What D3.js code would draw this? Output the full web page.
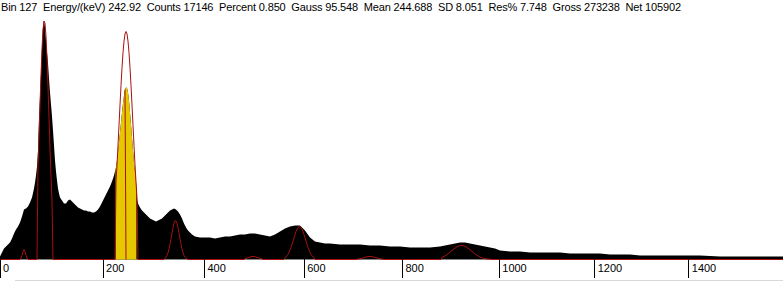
<!DOCTYPE html>
<html>
<meta charset="utf-8">
<title>Gamma Spectrum</title>
<style>
html, body {
    margin: 0;
    padding: 0;
    background: #fff;
}
svg {
    display: block;
}
.header, .axis text {
    font-family: "Liberation Sans", Arial, sans-serif;
    font-size: 11px;
    fill: #000;
}
.spectrum {
    fill: #000;
}
.roi {
    fill: #e6c800;
}
.fit {
    fill: none;
    stroke: #a81010;
    stroke-width: 1;
}
.cursor {
    stroke: #a81010;
    stroke-width: 1;
}
.axis line {
    stroke: #000;
    shape-rendering: crispEdges;
}
</style>
<body>
<div id="chart"></div>
<script src="https://cdn.jsdelivr.net/npm/d3@7"></script>
<script>
// spectrum: channel -> counts
var channels = [0, 2, 4, 6, 8, 10, 12, 14, 16, 18, 20, 22, 24, 26, 28, 30, 32, 34, 35, 36, 37, 38, 39,
    40, 41, 42, 43, 44, 45, 46, 47, 48, 49, 50, 51, 52, 53, 54, 55, 56, 57, 58, 59, 60, 62, 64, 66, 68,
    70, 72, 74, 76, 78, 80, 82, 84, 86, 88, 90, 92, 94, 96, 98, 100, 102, 104, 106, 108, 110, 112, 114,
    116, 117, 118, 119, 120, 121, 122, 123, 124, 125, 126, 127, 128, 129, 130, 131, 132, 133, 134, 135,
    136, 137, 138, 140, 142, 144, 146, 148, 150, 152, 154, 156, 158, 160, 162, 164, 166, 168, 170, 172,
    174, 176, 178, 180, 182, 184, 186, 188, 190, 192, 195, 200, 205, 210, 215, 220, 225, 230, 235, 240,
    245, 250, 255, 260, 265, 270, 275, 280, 285, 290, 295, 300, 305, 310, 315, 320, 325, 330, 340, 350,
    360, 370, 380, 390, 400, 410, 420, 430, 440, 445, 450, 455, 460, 465, 470, 475, 480, 485, 490, 495,
    500, 510, 520, 530, 540, 550, 560, 570, 580, 590, 600, 610, 620, 630, 640, 660, 680, 700, 720, 740,
    760, 783];
var counts = [300, 700, 1100, 1300, 1500, 1700, 2100, 2600, 3000, 3300, 3700, 4300, 5000, 5100, 5300, 5700, 6200, 7100, 7700, 8400, 9300, 10900, 14100,
    16300, 18700, 21300, 23300, 23900, 23200, 21900, 20700, 19600, 18100, 16700, 15500, 14300, 12900, 11400, 9900, 8800, 7900, 7100, 6600, 6200, 5900, 5600, 5600, 5900,
    6000, 5800, 5600, 5400, 5200, 5100, 5000, 4900, 4900, 4800, 4800, 4700, 4700, 4800, 5000, 5300, 5700, 6100, 6500, 6900, 7300, 7800, 8400,
    9200, 9900, 10700, 11700, 12700, 13700, 14700, 15600, 16400, 17000, 17200, 17146, 16700, 15900, 14700, 13500, 12200, 10900, 9700, 8700,
    7900, 6100, 5600, 5200, 4900, 4700, 4500, 4300, 4100, 4000, 3900, 3800, 3900, 4000, 4100, 4300, 4500, 4700, 4900, 5000,
    5100, 5000, 4800, 4500, 4100, 3600, 3200, 2900, 2700, 2500, 2300, 2200, 2200, 2200, 2100, 2200, 2300, 2300, 2400, 2500,
    2500, 2600, 2600, 2500, 2400, 2300, 2500, 2800, 3100, 3300, 3400, 3400, 2900, 2200, 1800, 1700, 1600, 1600, 1500, 1500,
    1500, 1400, 1400, 1300, 1300, 1200, 1200, 1200, 1300, 1400, 1500, 1600, 1700, 1700, 1600, 1500, 1400, 1300, 1200, 1100,
    900, 800, 800, 700, 700, 700, 700, 600, 600, 600, 600, 500, 500, 500, 400, 400, 400, 400, 300, 300,
    300, 300];

// fitted peaks (channel units)
var peakCentre = [24, 44.3, 126, 175.5, 253, 299.5, 370, 461.5];
var peakSigma = [1.5, 4.6, 6.8, 4, 5, 6, 6, 10];
var peakHeight = [1000, 23900, 22800, 3900, 300, 3300, 300, 1400];
var roiLo = [21, 38, 116, 165, 245, 285, 357, 442];
var roiHi = [27, 52, 137, 187, 262, 314, 383, 491];

var selectedRoi = [116, 136];
var cursorChannel = 125;

// energy calibration E = a + b*ch + c*ch^2
var calib = [0.81, 1.9255, 1.561e-4];
var energyTicks = [0, 200, 400, 600, 800, 1000, 1200, 1400];

var headerText = "Bin 127  Energy/(keV) 242.92  Counts 17146  Percent 0.850  Gauss 95.548  Mean 244.688  SD 8.051  Res% 7.748  Gross 273238  Net 105902";

var width = 783,
    height = 281,
    plotBottom = 259.5,
    plotTop = 19.5,
    nChannels = 783;

function channelOf(e) {
    var a = calib[0] - e, b = calib[1], c = calib[2];
    return (-b + Math.sqrt(b * b - 4 * c * a)) / (2 * c);
}

var x = d3.scaleLinear().domain([0, nChannels]).range([0, width]);
var y = d3.scaleLinear().domain([0, 24000]).range([plotBottom, plotTop]);

var svg = d3.select("#chart").append("svg")
    .attr("width", width)
    .attr("height", height);

svg.append("text")
    .attr("class", "header")
    .attr("x", 1)
    .attr("y", 11)
    .attr("xml:space", "preserve")
    .attr("textLength", 680)
    .attr("lengthAdjust", "spacing")
    .text(headerText);

var spec = channels.map(function(c, i) {
    return {ch: c, n: counts[i]};
});

var area = d3.area()
    .x(function(d) { return x(d.ch); })
    .y0(y(0))
    .y1(function(d) { return y(d.n); });

svg.append("path")
    .datum(spec)
    .attr("class", "spectrum")
    .attr("d", area);

svg.append("clipPath")
    .attr("id", "roiclip")
    .append("rect")
    .attr("x", x(selectedRoi[0]) - 0.4)
    .attr("width", x(selectedRoi[1]) - x(selectedRoi[0]) + 0.8)
    .attr("y", 0)
    .attr("height", height);

svg.append("path")
    .datum(spec)
    .attr("class", "roi")
    .attr("clip-path", "url(#roiclip)")
    .attr("d", area);

// fit curve: gaussians inside their regions, zero elsewhere
var fit = d3.range(0, nChannels + 1).map(function(c) {
    var v = 0;
    for (var i = 0; i < peakCentre.length; i++) {
        if (c >= roiLo[i] && c <= roiHi[i]) {
            var d = (c - peakCentre[i]) / peakSigma[i];
            v += peakHeight[i] * Math.exp(-0.5 * d * d);
        }
    }
    return {ch: c, n: v};
});

svg.append("path")
    .datum(fit)
    .attr("class", "fit")
    .attr("d", d3.line()
        .x(function(d) { return x(d.ch); })
        .y(function(d) { return y(d.n); }));

var cursorCount = counts[channels.indexOf(cursorChannel)];
svg.append("line")
    .attr("class", "cursor")
    .attr("x1", x(cursorChannel))
    .attr("x2", x(cursorChannel) + 1)
    .attr("y1", y(cursorCount))
    .attr("y2", y(0));

var axis = d3.axisBottom(x)
    .tickValues(energyTicks.map(channelOf))
    .tickFormat(function(d, i) { return energyTicks[i]; })
    .tickSize(19)
    .tickSizeOuter(0);

var gx = svg.append("g")
    .attr("class", "axis")
    .attr("transform", "translate(0," + Math.floor(plotBottom) + ")")
    .call(axis);

gx.select(".domain").remove();
gx.selectAll("text")
    .attr("x", 3)
    .attr("y", 13)
    .attr("dy", null)
    .attr("text-anchor", "start");

svg.append("line")
    .attr("x1", 15)
    .attr("x2", width)
    .attr("y1", 280.5)
    .attr("y2", 280.5)
    .attr("stroke", "#d8d8d8");
</script>
</body>
</html>
